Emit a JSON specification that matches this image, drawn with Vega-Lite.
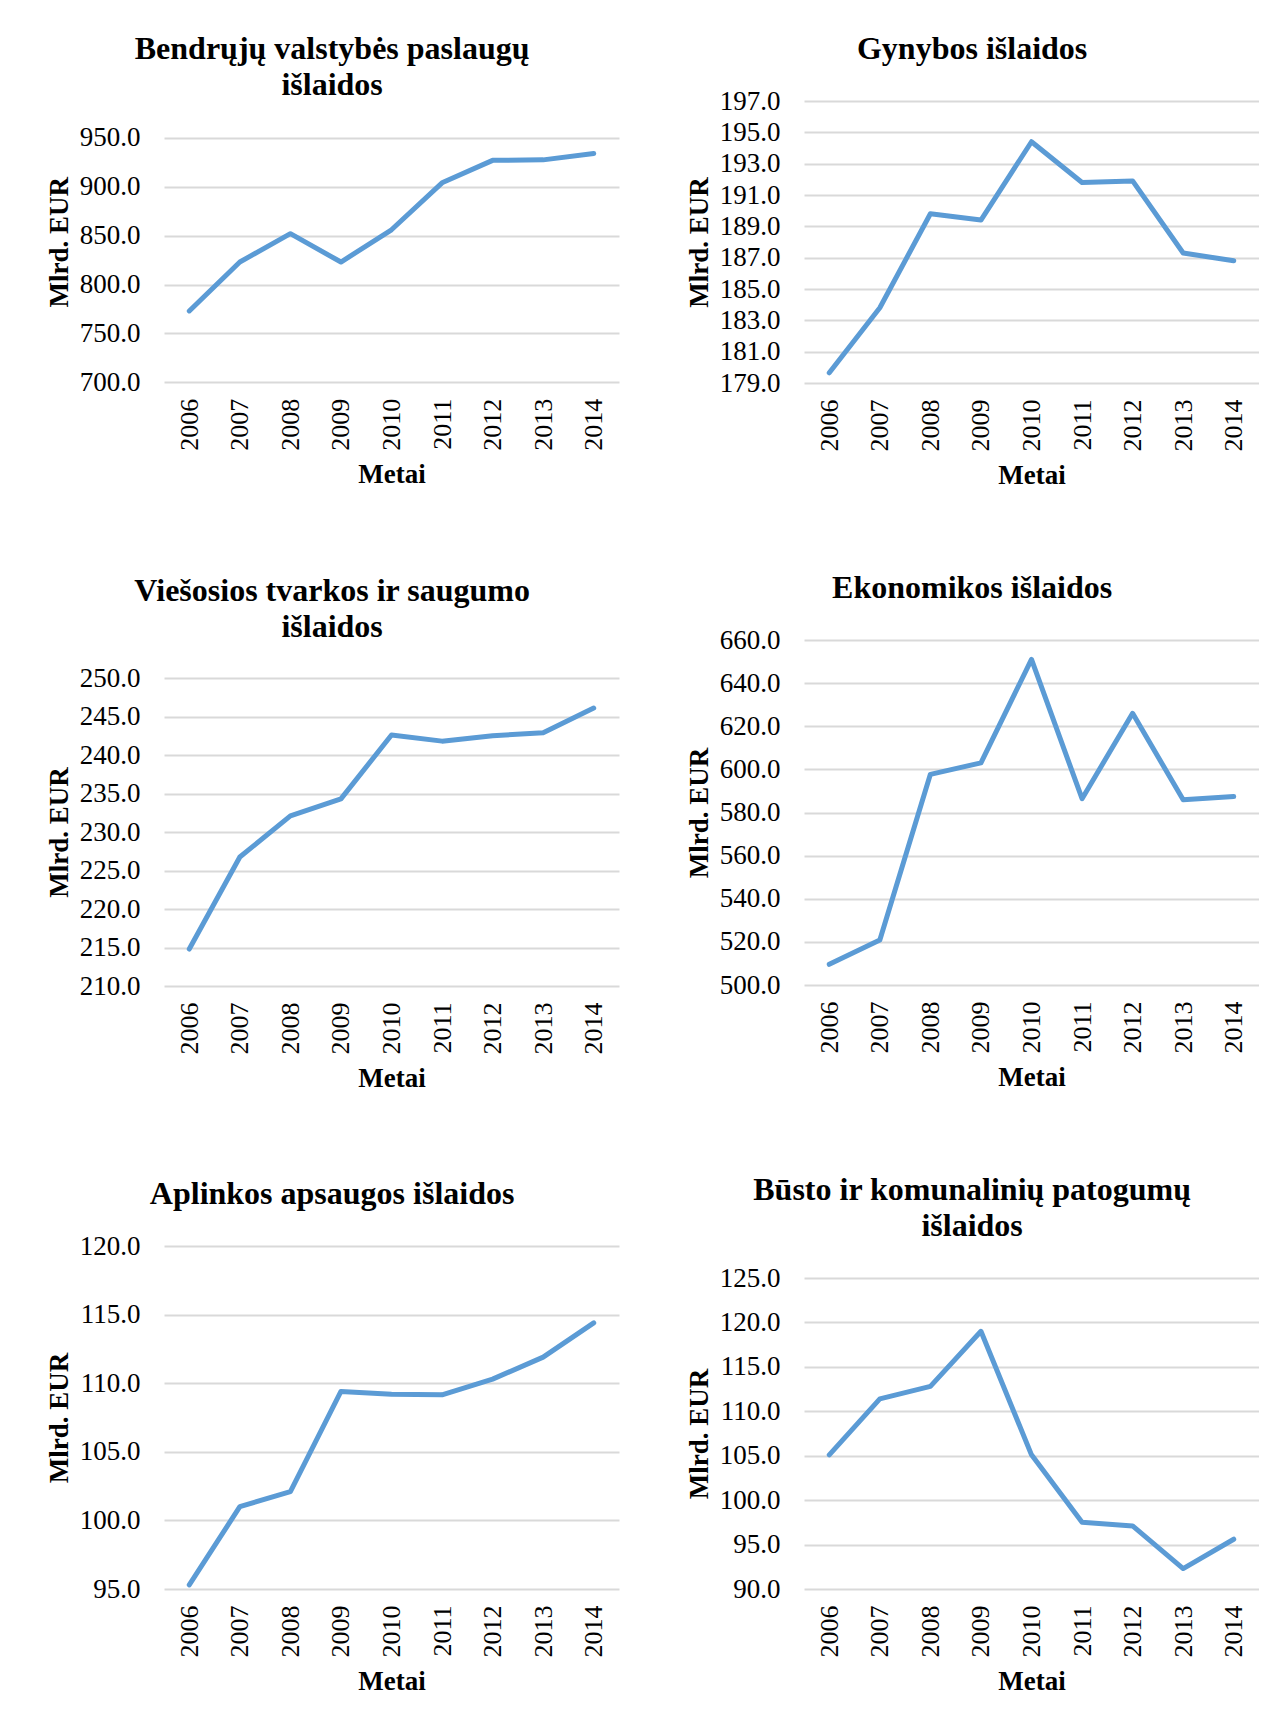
{
  "$schema": "https://vega.github.io/schema/vega-lite/v6.json",
  "background": "white",
  "padding": {"left": 45, "top": 33, "right": 0, "bottom": 0},
  "datasets": {
    "p1": [
      {"year": "2006", "value": 773}, {"year": "2007", "value": 823}, {"year": "2008", "value": 852},
      {"year": "2009", "value": 823}, {"year": "2010", "value": 856}, {"year": "2011", "value": 904},
      {"year": "2012", "value": 927}, {"year": "2013", "value": 927.5}, {"year": "2014", "value": 934}
    ],
    "p2": [
      {"year": "2006", "value": 179.65}, {"year": "2007", "value": 183.8}, {"year": "2008", "value": 189.8},
      {"year": "2009", "value": 189.4}, {"year": "2010", "value": 194.4}, {"year": "2011", "value": 191.8},
      {"year": "2012", "value": 191.9}, {"year": "2013", "value": 187.3}, {"year": "2014", "value": 186.8}
    ],
    "p3": [
      {"year": "2006", "value": 214.8}, {"year": "2007", "value": 226.75}, {"year": "2008", "value": 232.1},
      {"year": "2009", "value": 234.3}, {"year": "2010", "value": 242.6}, {"year": "2011", "value": 241.8},
      {"year": "2012", "value": 242.5}, {"year": "2013", "value": 242.9}, {"year": "2014", "value": 246.1}
    ],
    "p4": [
      {"year": "2006", "value": 509.6}, {"year": "2007", "value": 520.9}, {"year": "2008", "value": 597.7},
      {"year": "2009", "value": 603.0}, {"year": "2010", "value": 651.0}, {"year": "2011", "value": 586.4},
      {"year": "2012", "value": 626.0}, {"year": "2013", "value": 585.9}, {"year": "2014", "value": 587.4}
    ],
    "p5": [
      {"year": "2006", "value": 95.3}, {"year": "2007", "value": 101.0}, {"year": "2008", "value": 102.1},
      {"year": "2009", "value": 109.4}, {"year": "2010", "value": 109.2}, {"year": "2011", "value": 109.15},
      {"year": "2012", "value": 110.3}, {"year": "2013", "value": 111.9}, {"year": "2014", "value": 114.4}
    ],
    "p6": [
      {"year": "2006", "value": 105.1}, {"year": "2007", "value": 111.4}, {"year": "2008", "value": 112.8},
      {"year": "2009", "value": 119.0}, {"year": "2010", "value": 105.1}, {"year": "2011", "value": 97.5},
      {"year": "2012", "value": 97.1}, {"year": "2013", "value": 92.3}, {"year": "2014", "value": 95.6}
    ]
  },
  "hconcat": [
    {
      "spacing": 87,
      "vconcat": [
        {
          "width": 455, "height": 281.3,
          "title": {"text": ["Bendrųjų valstybės paslaugų", "išlaidos"], "offset": -1},
          "data": {"name": "p1"},
          "mark": {"type": "line", "color": "#5B9BD5", "strokeWidth": 5, "strokeJoin": "round", "strokeCap": "round"},
          "encoding": {
            "x": {"field": "year", "type": "ordinal", "title": "Metai"},
            "y": {"field": "value", "type": "quantitative", "title": "Mlrd. EUR",
                  "scale": {"domain": [700, 987.7], "nice": false, "zero": false},
                  "axis": {"values": [700, 750, 800, 850, 900, 950], "format": ".1f"}}
          }
        },
        {
          "width": 455, "height": 308,
          "title": {"text": ["Viešosios tvarkos ir saugumo", "išlaidos"], "offset": 20},
          "data": {"name": "p3"},
          "mark": {"type": "line", "color": "#5B9BD5", "strokeWidth": 5, "strokeJoin": "round", "strokeCap": "round"},
          "encoding": {
            "x": {"field": "year", "type": "ordinal", "title": "Metai"},
            "y": {"field": "value", "type": "quantitative", "title": "Mlrd. EUR",
                  "scale": {"domain": [210, 250], "nice": false, "zero": false},
                  "axis": {"values": [210, 215, 220, 225, 230, 235, 240, 245, 250], "format": ".1f"}}
          }
        },
        {
          "width": 455, "height": 343,
          "title": {"text": "Aplinkos apsaugos išlaidos"},
          "data": {"name": "p5"},
          "mark": {"type": "line", "color": "#5B9BD5", "strokeWidth": 5, "strokeJoin": "round", "strokeCap": "round"},
          "encoding": {
            "x": {"field": "year", "type": "ordinal", "title": "Metai"},
            "y": {"field": "value", "type": "quantitative", "title": "Mlrd. EUR",
                  "scale": {"domain": [95, 120], "nice": false, "zero": false},
                  "axis": {"values": [95, 100, 105, 110, 115, 120], "format": ".1f"}}
          }
        }
      ]
    },
    {
      "spacing": 84,
      "vconcat": [
        {
          "width": 455, "height": 282,
          "title": {"text": "Gynybos išlaidos"},
          "data": {"name": "p2"},
          "mark": {"type": "line", "color": "#5B9BD5", "strokeWidth": 5, "strokeJoin": "round", "strokeCap": "round"},
          "encoding": {
            "x": {"field": "year", "type": "ordinal", "title": "Metai"},
            "y": {"field": "value", "type": "quantitative", "title": "Mlrd. EUR",
                  "scale": {"domain": [179, 197], "nice": false, "zero": false},
                  "axis": {"values": [179, 181, 183, 185, 187, 189, 191, 193, 195, 197], "format": ".1f"}}
          }
        },
        {
          "width": 455, "height": 345,
          "title": {"text": "Ekonomikos išlaidos"},
          "data": {"name": "p4"},
          "mark": {"type": "line", "color": "#5B9BD5", "strokeWidth": 5, "strokeJoin": "round", "strokeCap": "round"},
          "encoding": {
            "x": {"field": "year", "type": "ordinal", "title": "Metai"},
            "y": {"field": "value", "type": "quantitative", "title": "Mlrd. EUR",
                  "scale": {"domain": [500, 660], "nice": false, "zero": false},
                  "axis": {"values": [500, 520, 540, 560, 580, 600, 620, 640, 660], "format": ".1f"}}
          }
        },
        {
          "width": 455, "height": 311,
          "title": {"text": ["Būsto ir komunalinių patogumų", "išlaidos"]},
          "data": {"name": "p6"},
          "mark": {"type": "line", "color": "#5B9BD5", "strokeWidth": 5, "strokeJoin": "round", "strokeCap": "round"},
          "encoding": {
            "x": {"field": "year", "type": "ordinal", "title": "Metai"},
            "y": {"field": "value", "type": "quantitative", "title": "Mlrd. EUR",
                  "scale": {"domain": [90, 125], "nice": false, "zero": false},
                  "axis": {"values": [90, 95, 100, 105, 110, 115, 120, 125], "format": ".1f"}}
          }
        }
      ]
    }
  ],
  "spacing": 66,
  "config": {
    "view": {"stroke": null},
    "title": {"font": "Liberation Serif", "fontSize": 32, "fontWeight": "bold", "color": "black", "lineHeight": 36, "offset": 21, "anchor": "middle", "frame": "bounds"},
    "axis": {
      "labelFont": "Liberation Serif", "labelFontSize": 26, "labelColor": "black",
      "titleFont": "Liberation Serif", "titleFontSize": 27, "titleFontWeight": "bold", "titleColor": "black",
      "domain": false, "ticks": false, "gridColor": "#D9D9D9", "gridWidth": 2
    },
    "axisX": {"grid": false, "labelAngle": -90, "labelPadding": 16, "titlePadding": 11},
    "axisY": {"grid": true, "labelPadding": 24, "titlePadding": 6, "labelFontSize": 27}
  }
}
